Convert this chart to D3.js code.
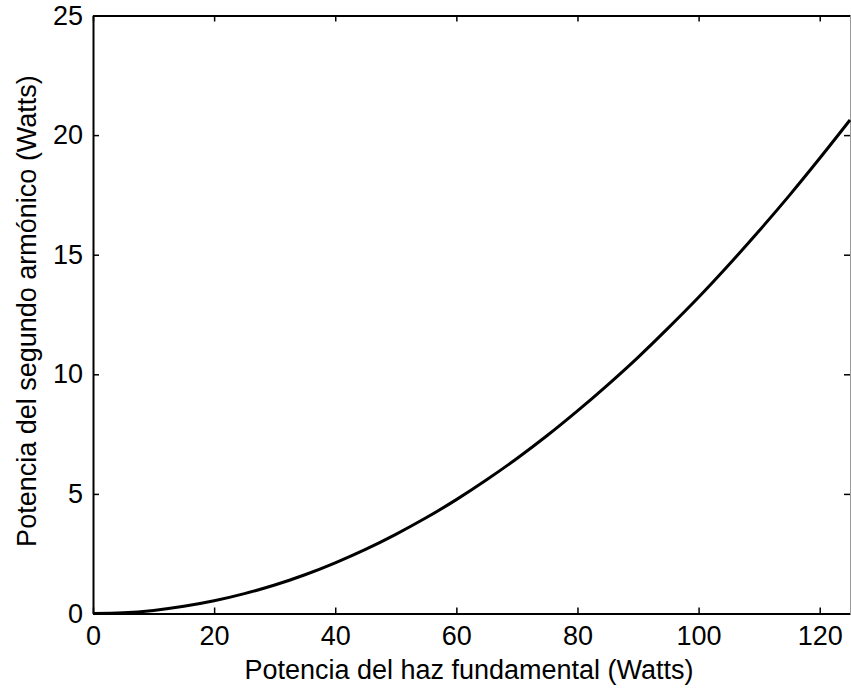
<!DOCTYPE html>
<html><head><meta charset="utf-8">
<script src="https://cdn.jsdelivr.net/npm/d3@7"></script>
<style>body{margin:0;background:#fff}svg{display:block}text{font-family:"Liberation Sans",Arial,sans-serif;fill:#000}</style>
</head><body>
<script>
const xValues = [0,5,10,15,20,25,30,35,40,45,50,55,60,65,70,75,80,85,90,95,100,105,110,115,120,125];
const yValues = [0,0.03,0.13,0.3,0.53,0.83,1.19,1.62,2.12,2.68,3.31,4.0,4.76,5.59,6.48,7.44,8.47,9.56,10.71,11.94,13.22,14.58,16.0,17.48,19.03,20.63];
const xTicks = [0,20,40,60,80,100,120];
const yTicks = [0,5,10,15,20,25];
const xTitle = "Potencia del haz fundamental (Watts)";
const yTitle = "Potencia del segundo armónico (Watts)";

const W=851,H=688;
const m={l:93,t:15.5,r:850,b:613.5};
const svg=d3.select("body").append("svg").attr("width",W).attr("height",H);
const x=d3.scaleLinear().domain([0,125]).range([m.l,m.r]);
const y=d3.scaleLinear().domain([0,25]).range([m.b,m.t]);
const fs=27, fsT=27;

const gb=svg.append("g").attr("transform",`translate(0,${m.b})`)
  .call(d3.axisBottom(x).tickValues(xTicks).tickSizeInner(-6).tickSizeOuter(0).tickPadding(12));
const gt=svg.append("g").attr("transform",`translate(0,${m.t})`)
  .call(d3.axisTop(x).tickValues(xTicks).tickSizeInner(-6).tickSizeOuter(0).tickFormat(""));
const gl=svg.append("g").attr("transform",`translate(${m.l},0)`)
  .call(d3.axisLeft(y).tickValues(yTicks).tickSizeInner(-6).tickSizeOuter(0).tickPadding(10));
const gr=svg.append("g").attr("transform",`translate(${m.r},0)`)
  .call(d3.axisRight(y).tickValues(yTicks).tickSizeInner(-6).tickSizeOuter(0).tickFormat(""));
[gb,gt,gl,gr].forEach(g=>{
  g.select(".domain").attr("stroke","#000").attr("stroke-width",2);
  g.selectAll(".tick line").attr("stroke","#000").attr("stroke-width",1.5);
  g.selectAll("text").attr("font-size",fs).attr("font-family",'"Liberation Sans",Arial,sans-serif').attr("fill","#000");
});
gb.selectAll("text").attr("dy","0.71em");
gr.select(".domain").attr("stroke","#999").attr("stroke-width",1);

const line=d3.line().x((d,i)=>x(xValues[i])).y(d=>y(d)).curve(d3.curveMonotoneX);
svg.append("path").datum(yValues).attr("d",line).attr("fill","none").attr("stroke","#000").attr("stroke-width",3);

svg.append("text").attr("x",469).attr("y",679).attr("text-anchor","middle").attr("font-size",fsT).text(xTitle);
svg.append("text").attr("transform",`translate(36,311) rotate(-90)`).attr("text-anchor","middle").attr("font-size",fsT).text(yTitle);
</script>
</body></html>
